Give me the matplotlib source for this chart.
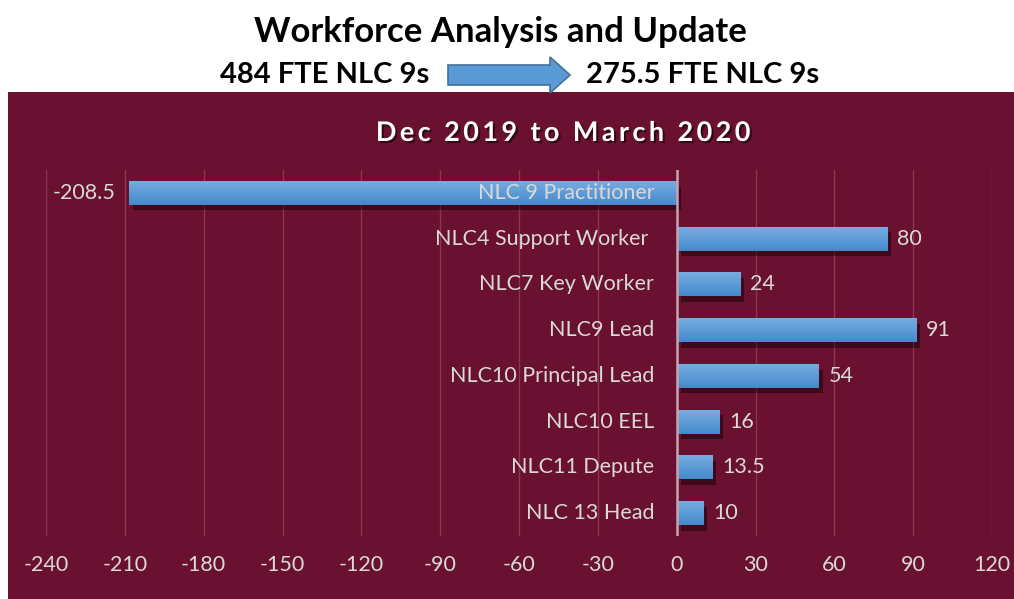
import numpy as np
import matplotlib.pyplot as plt
from matplotlib.patches import Rectangle, FancyArrow
from matplotlib.colors import LinearSegmentedColormap
import matplotlib.patheffects as pe

categories = ['NLC 9 Practitioner', 'NLC4 Support Worker ', 'NLC7 Key Worker', 'NLC9 Lead',
              'NLC10 Principal Lead', 'NLC10 EEL', 'NLC11 Depute', 'NLC 13 Head']
values = [-208.5, 80, 24, 91, 54, 16, 13.5, 10]
value_labels = ['-208.5', '80', '24', '91', '54', '16', '13.5', '10']
xticks = [-240, -210, -180, -150, -120, -90, -60, -30, 0, 30, 60, 90, 120]

MAROON = '#6A1030'
TEXT = '#D9D9D9'
FONT = ['Lato', 'DejaVu Sans']

plt.rcParams['font.family'] = FONT

W, H = 1014, 599
fig = plt.figure(figsize=(W / 100, H / 100), dpi=100)
fig.patch.set_facecolor('white')

# maroon panel
fig.add_artist(Rectangle((8 / W, 0), 1 - 8 / W, (H - 92) / H, transform=fig.transFigure,
                         facecolor=MAROON, edgecolor='none', zorder=0))

# headings above the panel
fig.text(500 / W, 1 - 32 / H, 'Workforce Analysis and Update', ha='center', va='center',
         fontsize=25, fontweight='bold', color='black')
fig.text(325 / W, 1 - 75 / H, '484 FTE NLC 9s', ha='center', va='center',
         fontsize=21, fontweight='bold', color='black')
fig.text(703 / W, 1 - 75 / H, '275.5 FTE NLC 9s', ha='center', va='center',
         fontsize=21, fontweight='bold', color='black')
fig.add_artist(FancyArrow(448 / W, 1 - 75 / H, (570 - 448) / W, 0, width=20 / H,
                          head_width=36 / H, head_length=20 / W, length_includes_head=True,
                          transform=fig.transFigure, facecolor='#5B9BD5', edgecolor='#41719C',
                          linewidth=1.2, zorder=3))

# panel title with loose letter spacing
title = '\u2009'.join('Dec 2019 to March 2020')
fig.text(563 / W, 1 - 133 / H, title, ha='center', va='center',
         fontsize=19.5, fontweight='bold', color='white',
         path_effects=[pe.withSimplePatchShadow(offset=(1.5, -1.5), shadow_rgbFace='black', alpha=0.5)])

ax = fig.add_axes([46 / W, (H - 536) / H, (992 - 46) / W, (536 - 170) / H])
ax.set_facecolor('none')
for s in ax.spines.values():
    s.set_visible(False)

y = np.arange(len(categories))
bars = ax.barh(y, values, height=0.52, color='#5B9BD5', zorder=3,
               path_effects=[pe.SimplePatchShadow(offset=(3, -4), shadow_rgbFace='black', alpha=0.4),
                             pe.Normal()])

# vertical gradient on each bar
grad = np.linspace(0, 1, 64).reshape(-1, 1)
cmap = LinearSegmentedColormap.from_list('barg', ['#77ADE0', '#4589CC'])
for b in bars:
    x0, x1 = sorted([b.get_x(), b.get_x() + b.get_width()])
    y0, y1 = b.get_y(), b.get_y() + b.get_height()
    im = ax.imshow(grad, extent=(x0, x1, y1, y0), cmap=cmap, aspect='auto', zorder=4,
                   interpolation='bicubic')
    im.set_clip_path(b)

for i, (v, lab, cat) in enumerate(zip(values, value_labels, categories)):
    if v < 0:
        ax.text(v - 5, i, lab, ha='right', va='center', fontsize=15.5, color=TEXT, zorder=6)
    else:
        ax.text(v + 4, i, lab, ha='left', va='center', fontsize=15.5, color=TEXT, zorder=6)
    ax.text(-8.5, i, cat, ha='right', va='center', fontsize=15.5, color=TEXT, zorder=6)

ax.set_xlim(-240, 120)
ax.set_ylim(len(categories) - 0.5, -0.5)
ax.set_xticks(xticks)
ax.set_xticklabels([str(t) for t in xticks])
ax.set_yticks([])
ax.tick_params(axis='x', length=0, labelsize=15.5, labelcolor=TEXT, pad=14)
ax.grid(axis='x', color='#8A3553', linewidth=1, zorder=1)
ax.axvline(0, color='#C8A2AF', linewidth=1.8, zorder=5)

fig.savefig('out.png', dpi=100, facecolor=fig.get_facecolor())
